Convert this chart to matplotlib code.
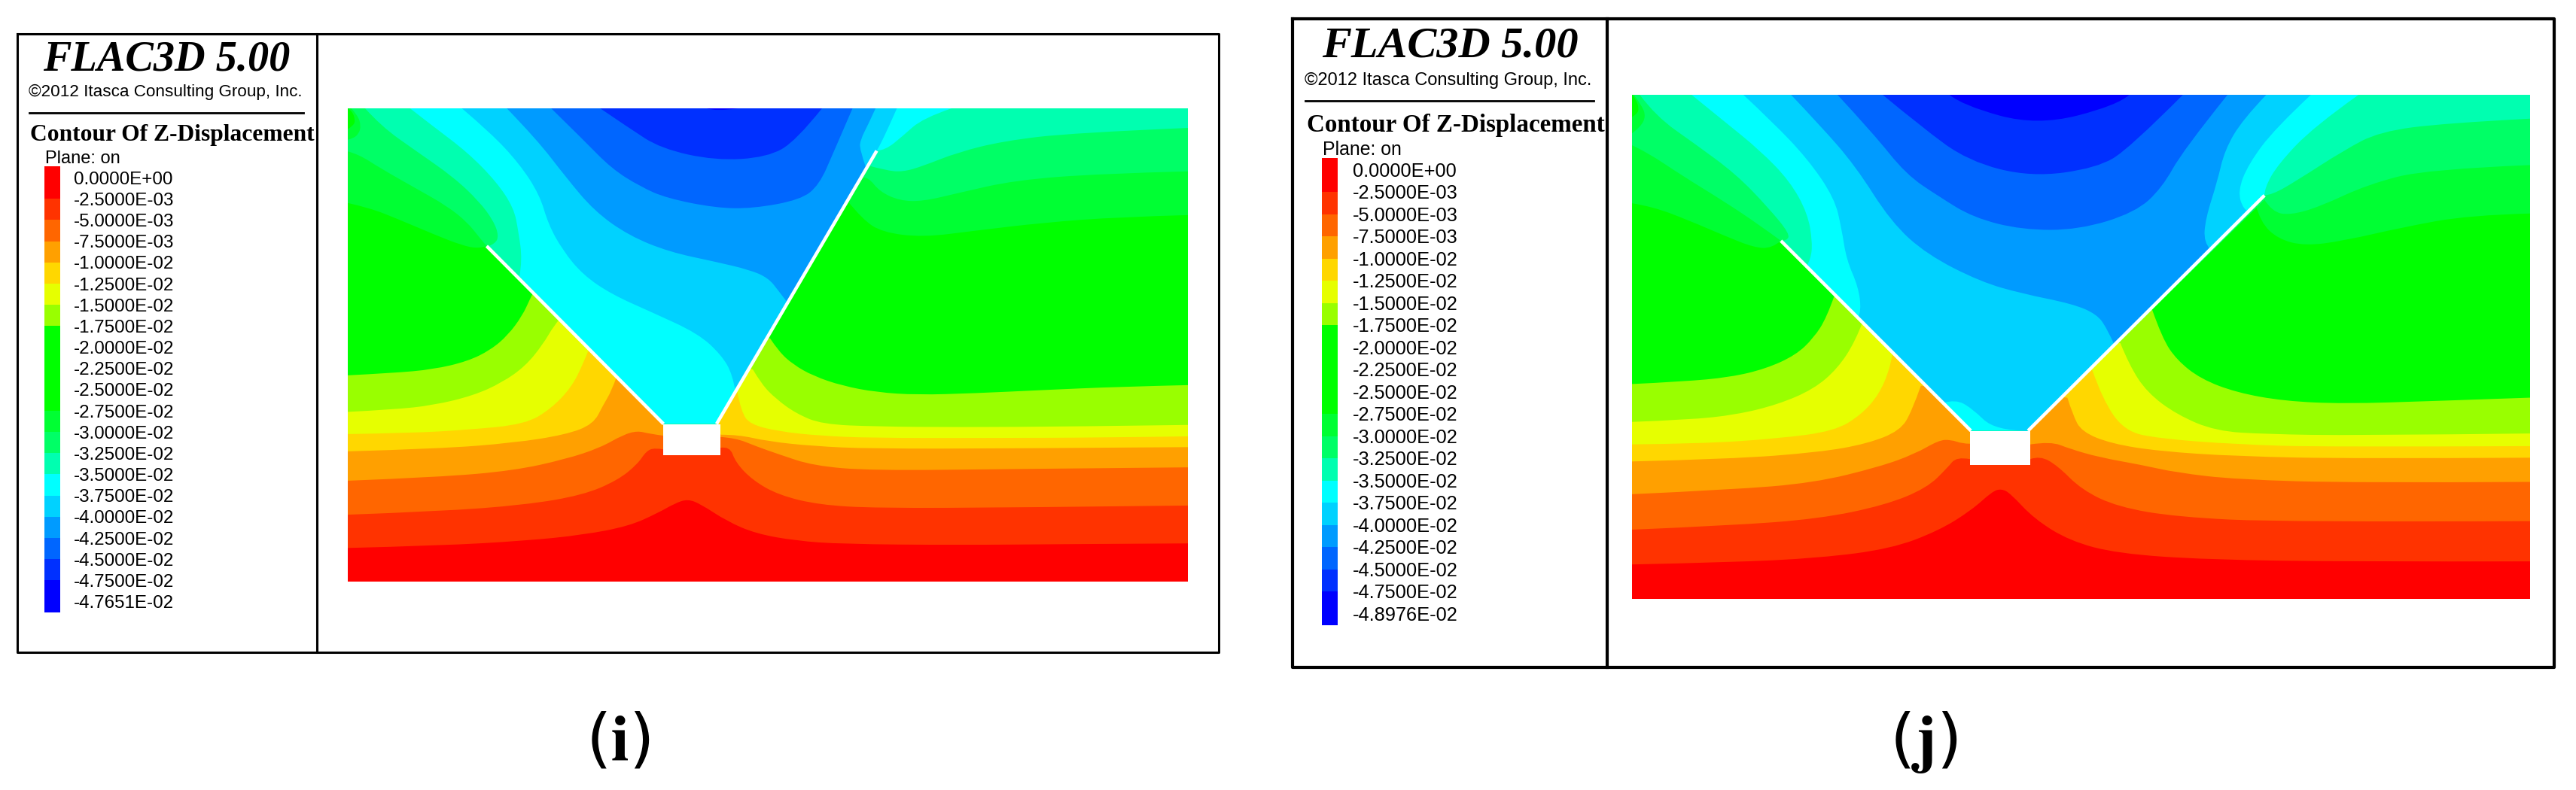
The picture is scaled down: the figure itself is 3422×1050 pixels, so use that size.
import matplotlib
matplotlib.use('Agg')
import matplotlib.pyplot as plt
from matplotlib.patches import PathPatch
from matplotlib.path import Path

W, H = 3423, 1050

# legend rows, warm to cold
COLORS = ['#ff0000', '#ff3300', '#ff6600', '#ffa000', '#ffd700', '#e6ff00', '#99ff00',
          '#00ff00', '#00ff00', '#00ff00', '#00ff00', '#00ff33', '#00ff66', '#00ffb0',
          '#00ffff', '#00d2ff', '#009bff', '#0066ff', '#0030ff', '#0000ff']
LABELS = ['0.0000E+00', '-2.5000E-03', '-5.0000E-03', '-7.5000E-03', '-1.0000E-02',
          '-1.2500E-02', '-1.5000E-02', '-1.7500E-02', '-2.0000E-02', '-2.2500E-02',
          '-2.5000E-02', '-2.7500E-02', '-3.0000E-02', '-3.2500E-02', '-3.5000E-02',
          '-3.7500E-02', '-4.0000E-02', '-4.2500E-02', '-4.5000E-02', '-4.7500E-02']
LAST_I = '-4.7651E-02'
LAST_J = '-4.8976E-02'

WARM_COLORS = ['#99ff00', '#e6ff00', '#ffd700', '#ffa000', '#ff6600', '#ff3300', '#ff0000']
COLD_COLORS = ['#00ff33', '#00ff66', '#00ffb0', '#00ffff', '#00d2ff', '#009bff', '#0066ff', '#0030ff', '#0000ff']

# contours (digitised units, y down)
# warm ones: part left of the wedge, part right of it
I_EXTENT = (42, 1500, 55, 1505)
I_FAULT_L = [(283, 477), (590, 1022)]
I_FAULT_R = [(682, 1022), (960, 185)]
I_HOLE = (589, 689, 1023, 1118)
I_WARM_L = [
    [(42, 873), (120, 866), (190, 855), (250, 830), (290, 795), (320, 750), (345, 690), (358, 640), (365, 615)],
    [(42, 985), (120, 978), (190, 965), (260, 935), (310, 895), (350, 845), (380, 780), (400, 720), (410, 700)],
    [(42, 1053), (150, 1050), (250, 1040), (350, 1023), (395, 975), (430, 910), (450, 840), (460, 795)],
    [(42, 1106), (200, 1098), (330, 1080), (420, 1055), (468, 1023), (485, 965), (500, 920), (508, 880)],
    [(42, 1196), (200, 1185), (330, 1165), (420, 1130), (480, 1095), (520, 1055), (545, 1043), (565, 1052), (590, 1058)],
    [(42, 1300), (200, 1290), (350, 1270), (450, 1240), (510, 1195), (545, 1145), (560, 1105), (575, 1095), (590, 1100)],
    [(42, 1402), (200, 1395), (350, 1380), (450, 1362), (530, 1335), (580, 1295), (610, 1265), (632, 1252), (655, 1268),
     (700, 1320), (750, 1358), (820, 1380), (900, 1390), (1100, 1393), (1300, 1390), (1500, 1388)],
]
I_WARM_R = [
    [(775, 760), (790, 800), (815, 840), (850, 875), (900, 905), (960, 925), (1030, 933), (1130, 928), (1250, 918), (1380, 908), (1500, 903)],
    [(745, 855), (760, 900), (785, 945), (820, 990), (865, 1023), (960, 1030), (1100, 1032), (1300, 1030), (1500, 1025)],
    [(718, 925), (725, 985), (740, 1023), (790, 1045), (860, 1058), (950, 1065), (1150, 1065), (1350, 1064), (1500, 1060)],
    [(690, 1055), (720, 1055), (770, 1075), (850, 1090), (950, 1098), (1200, 1097), (1500, 1093)],
    [(689, 1062), (715, 1065), (750, 1090), (790, 1115), (850, 1150), (950, 1165), (1200, 1160), (1500, 1155)],
    [(689, 1095), (705, 1090), (715, 1140), (745, 1195), (790, 1240), (860, 1270), (960, 1280), (1200, 1278), (1500, 1272)],
    [],
]
I_COLD_L = [
    [(42, 55), (42, 345), (80, 360), (130, 395), (190, 440), (240, 475), (270, 485), (283, 477)],
    [(42, 55), (42, 187), (60, 195), (100, 240), (160, 300), (215, 355), (250, 405), (270, 450), (283, 477)],
    [(72, 55), (100, 110), (160, 185), (225, 265), (270, 340), (295, 400), (304, 445), (298, 470), (285, 478)],
    [(150, 55), (190, 110), (250, 190), (300, 280), (330, 360), (338, 430), (345, 520), (340, 570)],
    [(240, 55), (290, 130), (340, 225), (375, 320), (390, 410), (415, 490), (450, 565), (500, 625), (570, 680), (650, 745), (690, 810), (710, 870), (715, 925)],
    [(318, 55), (370, 150), (420, 265), (470, 370), (530, 445), (600, 495), (680, 525), (740, 550), (772, 575), (790, 615), (805, 650)],
    [(395, 55), (450, 150), (500, 240), (550, 295), (595, 330), (680, 360), (745, 362), (828, 335), (860, 290), (885, 190), (918, 55)],
    [(480, 55), (530, 115), (585, 178), (680, 215), (770, 205), (820, 155), (865, 55)],
    [(665, 55), (680, 65), (720, 55)],
]
# how the coldness region closes along the wedge floor
I_COLD_FLOOR = [
    [(590, 1022), (682, 1022)], [(590, 1022), (682, 1022)], [(590, 1022), (682, 1022)], [(590, 1022), (682, 1022)],
    [], [], [], [], [],
]
I_COLD_R = [
    [(910, 340), (935, 395), (970, 435), (1040, 450), (1130, 430), (1250, 405), (1380, 388), (1500, 382), (1500, 55)],
    [(933, 265), (945, 265), (965, 310), (1000, 338), (1040, 340), (1100, 315), (1200, 275), (1350, 255), (1500, 248), (1500, 55)],
    [(945, 230), (975, 245), (1005, 250), (1040, 232), (1100, 190), (1180, 155), (1300, 130), (1500, 115), (1500, 55)],
    [(960, 185), (975, 183), (1005, 140), (1040, 85), (1090, 55)],
    [(960, 185), (965, 170), (980, 115), (995, 55)],
    [(942, 240), (930, 180), (932, 150), (945, 105), (958, 55)],
    [], [], [],
]
I_POCKETS = [
    ('#00ff33', [(48, 55), (59, 76), (65, 107), (61, 134), (50, 148), (42, 151), (42, 55)]),
    ('#00ff00', [(42, 55), (50, 64), (55, 92), (52, 107), (42, 119)]),
]

J_EXTENT = (35, 1543, 37, 1515)
J_FAULT_L = [(285, 465), (604, 1022)]
J_FAULT_R = [(700, 1022), (1097, 332)]
J_HOLE = (602, 704, 1023, 1122)
J_WARM_L = [
    [(35, 885), (120, 878), (200, 865), (260, 840), (310, 800), (340, 750), (362, 690), (375, 625)],
    [(35, 996), (130, 990), (210, 975), (280, 945), (340, 900), (380, 840), (410, 760), (423, 700)],
    [(35, 1062), (150, 1060), (280, 1045), (375, 1023), (420, 975), (450, 915), (468, 840), (472, 800)],
    [(35, 1112), (200, 1105), (350, 1085), (430, 1060), (485, 1022), (505, 965), (520, 890)],
    [(35, 1208), (200, 1195), (340, 1175), (450, 1128), (510, 1090), (550, 1050), (570, 1048), (590, 1060), (602, 1060)],
    [(35, 1312), (200, 1300), (350, 1280), (460, 1240), (530, 1190), (565, 1130), (580, 1098), (602, 1105)],
    [(35, 1414), (200, 1408), (350, 1395), (470, 1368), (550, 1315), (605, 1255), (640, 1200), (655, 1192), (670, 1205),
     (710, 1280), (770, 1345), (850, 1382), (1000, 1400), (1250, 1406), (1543, 1405)],
]
J_WARM_R = [
    [(908, 665), (925, 750), (950, 815), (990, 870), (1050, 910), (1130, 935), (1230, 943), (1380, 935), (1543, 925)],
    [(855, 765), (870, 830), (900, 910), (950, 975), (1015, 1023), (1100, 1032), (1250, 1036), (1543, 1030)],
    [(808, 845), (825, 930), (862, 1023), (920, 1045), (1050, 1062), (1200, 1070), (1543, 1067)],
    [(766, 925), (775, 975), (790, 1025), (840, 1060), (920, 1082), (1050, 1097), (1250, 1104), (1543, 1101)],
    [(704, 1062), (738, 1053), (770, 1075), (820, 1100), (890, 1122), (950, 1145), (1050, 1165), (1250, 1175), (1543, 1172)],
    [(704, 1105), (720, 1095), (750, 1125), (790, 1195), (850, 1245), (950, 1275), (1130, 1290), (1543, 1287)],
    [],
]
J_COLD_L = [
    [(35, 37), (35, 355), (70, 365), (130, 405), (190, 450), (240, 485), (270, 487), (285, 465)],
    [(35, 37), (35, 185), (60, 205), (120, 275), (190, 350), (250, 420), (285, 465)],
    [(48, 37), (75, 100), (140, 180), (210, 270), (265, 370), (300, 445), (295, 465), (285, 465)],
    [(135, 37), (190, 115), (250, 200), (300, 290), (330, 385), (338, 470), (335, 520), (328, 540)],
    [(222, 37), (270, 115), (330, 225), (375, 340), (387, 430), (395, 520), (415, 600), (420, 670), (415, 690)],
    [(302, 37), (350, 125), (410, 245), (470, 410), (530, 505), (620, 585), (690, 620), (775, 650), (815, 680), (832, 720), (845, 770)],
    [(380, 37), (440, 150), (495, 270), (550, 335), (608, 397), (690, 433), (785, 433), (880, 382), (925, 310), (960, 200), (1035, 37)],
    [(456, 37), (520, 130), (600, 232), (705, 278), (815, 252), (870, 195), (960, 37)],
    [(568, 37), (590, 68), (715, 128), (850, 68), (870, 37)],
]
J_COLD_FLOOR = [
    [(604, 1022), (700, 1022)], [(604, 1022), (700, 1022)], [(604, 1022), (700, 1022)], [(604, 1022), (700, 1022)],
    [(558, 940), (578, 930), (605, 955), (645, 1022), (700, 1022)],
    [], [], [], [],
]
J_COLD_R = [
    [(1082, 358), (1090, 410), (1120, 460), (1165, 480), (1230, 465), (1330, 425), (1440, 390), (1543, 385), (1543, 37)],
    [(1097, 345), (1110, 380), (1140, 390), (1190, 365), (1270, 300), (1370, 255), (1543, 243), (1543, 37)],
    [(1097, 332), (1110, 330), (1150, 290), (1230, 200), (1290, 145), (1400, 120), (1543, 107), (1543, 37)],
    [(1097, 332), (1097, 310), (1120, 240), (1180, 130), (1255, 37)],
    [(1070, 378), (1062, 375), (1052, 320), (1070, 240), (1115, 135), (1175, 37)],
    [(1006, 490), (995, 470), (998, 400), (1018, 290), (1030, 200), (1060, 110), (1100, 37)],
    [], [], [],
]
J_POCKETS = [
    ('#00ff33', [(38, 37), (52, 70), (58, 100), (50, 130), (35, 150), (35, 37)]),
    ('#00ff00', [(35, 37), (42, 50), (47, 80), (42, 95), (35, 102)]),
]


def band_path(runs, extent):
    xmin, xmax, ymin, ymax = extent
    verts, codes = [], []

    def add(pts):
        verts.append(pts[0])
        codes.append(Path.LINETO if codes else Path.MOVETO)
        for i in range(1, len(pts) - 1):
            if i == len(pts) - 2:
                end = pts[-1]
            else:
                end = ((pts[i][0] + pts[i + 1][0])/2, (pts[i][1] + pts[i + 1][1])/2)
            verts.extend([pts[i], end])
            codes.extend([Path.CURVE3, Path.CURVE3])
        if len(pts) == 2:
            verts.append(pts[1])
            codes.append(Path.LINETO)

    for run in runs:
        current = []
        for p in run:
            current.append(p)
            if len(current) > 1 and (p[0] in (xmin, xmax) or p[1] in (ymin, ymax)):
                add(current)
                current = [p]
        if len(current) > 1 or (current and len(run) == 1):
            add(current)
    verts.append(verts[0])
    codes.append(Path.CLOSEPOLY)
    return Path(verts, codes)


def draw_contours(fig, box, extent, warm_l, warm_r, cold_l, cold_floor, cold_r, pockets, fault_l, fault_r, hole):
    x0, x1, y0, y1 = box
    ax = fig.add_axes([x0/W, 1 - y1/H, (x1 - x0)/W, (y1 - y0)/H])
    xmin, xmax, ymin, ymax = extent
    ax.set_xlim(xmin, xmax)
    ax.set_ylim(ymax, ymin)
    ax.axis('off')

    def paint(color, runs):
        ax.add_patch(PathPatch(band_path(runs, extent), facecolor=color, edgecolor='none', lw=0))

    ax.fill([xmin, xmax, xmax, xmin], [ymin, ymin, ymax, ymax], color='#00ff00', lw=0)
    for color, left, right in zip(WARM_COLORS, warm_l, warm_r):
        paint(color, [left, right, [(xmax, ymax), (xmin, ymax)]])
    for color, left, floor, right in zip(COLD_COLORS, cold_l, cold_floor, cold_r):
        paint(color, [left, floor, right])
    for color, pts in pockets:
        paint(color, [pts])

    ax.plot(*zip(*fault_l), color='white', lw=3.2, solid_capstyle='butt')
    ax.plot(*zip(*fault_r), color='white', lw=3.2, solid_capstyle='butt')
    hx0, hx1, hy0, hy1 = hole
    ax.fill([hx0, hx1, hx1, hx0], [hy0, hy0, hy1, hy1], color='white', lw=0)


def draw_side(ax, frame, divider, frame_lw, last_label, s):
    left, right, top, bottom = frame
    ax.plot([left, right, right, left, left], [top, top, bottom, bottom, top], color='black', lw=frame_lw)
    ax.plot([divider, divider], [top, bottom], color='black', lw=frame_lw)

    ax.text(s['title_x'], s['title_y'], 'FLAC3D 5.00', family='Liberation Serif', weight='bold', style='italic',
            fontsize=s['title_fs'], ha='center', va='baseline')
    ax.text(s['copy_x'], s['copy_y'], '\u00a92012 Itasca Consulting Group, Inc.', family='Liberation Sans',
            fontsize=s['copy_fs'], va='baseline')
    ax.plot(s['rule_x'], [s['rule_y'], s['rule_y']], color='black', lw=2)
    ax.text(s['head_x'], s['head_y'], 'Contour Of Z-Displacement', family='Liberation Serif', weight='bold',
            fontsize=s['head_fs'], va='baseline')
    ax.text(s['plane_x'], s['plane_y'], 'Plane: on', family='Liberation Sans', fontsize=s['plane_fs'], va='baseline')

    y0, dy = s['row_y'], s['row_dy']
    edges = [s['bar_top']] + [y0 + k*dy for k in range(1, 20)] + [s['bar_bottom']]
    for k, color in enumerate(COLORS):
        ax.bar(s['bar_x'], edges[k + 1] - edges[k], bottom=edges[k], width=s['bar_w'], color=color, align='edge', lw=0)
    for k, label in enumerate(LABELS + [last_label]):
        ax.text(s['label_x'], y0 + k*dy + s['label_fs']*0.5, label, family='Liberation Sans',
                fontsize=s['label_fs'], va='baseline')


plt.rcParams['mathtext.fontset'] = 'stix'
fig = plt.figure(figsize=(W/100, H/100), dpi=100, facecolor='white')

page = fig.add_axes([0, 0, 1, 1])
page.set_xlim(0, W)
page.set_ylim(H, 0)
page.axis('off')

draw_contours(fig, (462, 1578, 144, 773), I_EXTENT, I_WARM_L, I_WARM_R, I_COLD_L, I_COLD_FLOOR, I_COLD_R,
              I_POCKETS, I_FAULT_L, I_FAULT_R, I_HOLE)
draw_contours(fig, (2168, 3361, 126, 796), J_EXTENT, J_WARM_L, J_WARM_R, J_COLD_L, J_COLD_FLOOR, J_COLD_R,
              J_POCKETS, J_FAULT_L, J_FAULT_R, J_HOLE)

draw_side(page, (23, 1619, 45, 867), 421, 2.2, LAST_I, dict(
    title_x=221, title_y=94, title_fs=40.5, copy_x=38, copy_y=128, copy_fs=16.2,
    rule_x=[39, 403], rule_y=149.5, head_x=40.5, head_y=187, head_fs=22.7,
    plane_x=60.5, plane_y=217, plane_fs=17, row_y=236, row_dy=28.17,
    bar_x=59, bar_w=21, bar_top=221, bar_bottom=814, label_x=98, label_fs=17.4))
draw_side(page, (1717, 3393, 25, 887), 2135, 3, LAST_J, dict(
    title_x=1926, title_y=76, title_fs=42, copy_x=1733, copy_y=113, copy_fs=17,
    rule_x=[1734, 2117], rule_y=133.7, head_x=1736, head_y=174.5, head_fs=23.8,
    plane_x=1757, plane_y=206, plane_fs=17.9, row_y=225.7, row_dy=29.5,
    bar_x=1755.7, bar_w=21.5, bar_top=210, bar_bottom=831, label_x=1797, label_fs=18.3))

page.text(820.5, 986, r'($\mathbf{i}$)', fontsize=62, ha='center', va='center')
page.text(2555, 986, r'($\mathbf{j}$)', fontsize=62, ha='center', va='center')

fig.savefig('out.png', dpi=100)
